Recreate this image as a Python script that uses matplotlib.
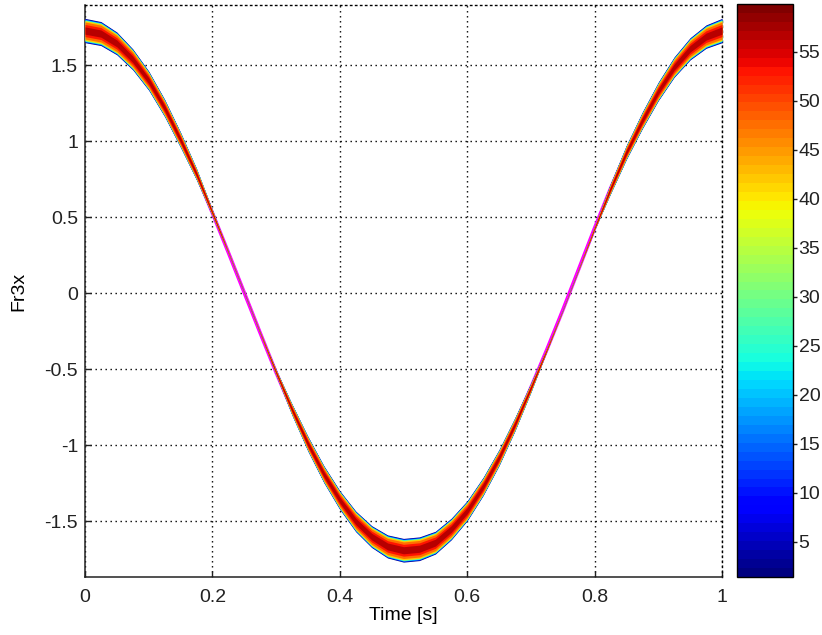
import numpy as np
import matplotlib.pyplot as plt
import matplotlib as mpl

# Dados

t = [0.0, 0.025, 0.05, 0.075, 0.1, 0.125, 0.15, 0.175, 0.2, 0.225,
     0.25, 0.275, 0.3, 0.325, 0.35, 0.375, 0.4, 0.425, 0.45, 0.475,
     0.5, 0.525, 0.55, 0.575, 0.6, 0.625, 0.65, 0.675, 0.7, 0.725,
     0.75, 0.775, 0.8, 0.825, 0.85, 0.875, 0.9, 0.925, 0.95, 0.975, 1.0]

fr3x = [1.73, 1.71, 1.645, 1.54, 1.40, 1.22, 1.01, 0.785, 0.53, 0.27,
        0.005, -0.26, -0.52, -0.765, -0.99, -1.19, -1.36, -1.50, -1.60, -1.665,
        -1.69, -1.68, -1.64, -1.55, -1.43, -1.27, -1.08, -0.86, -0.62, -0.37,
        -0.11, 0.16, 0.43, 0.69, 0.93, 1.14, 1.33, 1.49, 1.61, 1.69, 1.73]

# meia largura (vertical) da faixa de densidade
spread = [0.080, 0.079, 0.075, 0.069, 0.063, 0.057, 0.050, 0.038, 0.020, 0.004,
          0.002, 0.004, 0.018, 0.037, 0.049, 0.056, 0.062, 0.068, 0.072, 0.076,
          0.078, 0.078, 0.075, 0.071, 0.066, 0.060, 0.053, 0.044, 0.030, 0.010,
          0.002, 0.003, 0.012, 0.034, 0.047, 0.055, 0.061, 0.067, 0.073, 0.077, 0.080]

# perfil da densidade: contagem e fração da meia largura
counts = [3, 12, 22, 33, 42, 48, 53, 57]
fracs = [1.0, 0.95, 0.9, 0.85, 0.8, 0.7, 0.5, 0.3]

cbar_ticks = [5, 10, 15, 20, 25, 30, 35, 40, 45, 50, 55]
x_ticks = [0, 0.2, 0.4, 0.6, 0.8, 1]
y_ticks = [-1.5, -1, -0.5, 0, 0.5, 1, 1.5]

# Configuração

plt.rcParams['font.family'] = ['Liberation Sans', 'DejaVu Sans']
plt.rcParams['font.size'] = 14
plt.rcParams['text.color'] = '#222222'
plt.rcParams['xtick.color'] = '#222222'
plt.rcParams['ytick.color'] = '#222222'

cmap = mpl.colormaps['jet'].resampled(64)
norm = mpl.colors.Normalize(vmin=1.4, vmax=59.9)

fig = plt.figure(figsize=(8.22, 6.35), dpi=100)
ax = fig.add_axes([85 / 822, 58 / 635, 637 / 822, 572 / 635])
cax = fig.add_axes([737 / 822, 58 / 635, 56 / 822, 573 / 635])

t_arr = np.array(t)
y_arr = np.array(fr3x)
w_arr = np.array(spread)

# linha magenta por baixo
ax.plot(t_arr, y_arr, color='#ff00ff', lw=2.6, zorder=2, solid_capstyle='butt')

# faixa de densidade em camadas
for c, f in zip(counts, fracs):
    ax.fill_between(t_arr, y_arr - f * w_arr, y_arr + f * w_arr,
                    color=cmap(norm(c)), lw=0, zorder=3)

ax.set_xlim(0, 1)
ax.set_ylim(-1.866, 1.898)
ax.set_xticks(x_ticks)
ax.set_xticklabels(['0', '0.2', '0.4', '0.6', '0.8', '1'])
ax.set_yticks(y_ticks)
ax.set_yticklabels(['-1.5', '-1', '-0.5', '0', '0.5', '1', '1.5'])

ax.set_axisbelow(True)
ax.grid(True, color='black', linestyle=(0, (1, 2.6)), linewidth=1.0)
ax.tick_params(direction='in', length=4, width=1, top=False, right=False)
ax.tick_params(axis='x', pad=8.5)
ax.tick_params(axis='y', pad=5)

for s in ['left', 'bottom']:
    ax.spines[s].set_linewidth(1.1)
    ax.spines[s].set_color('#222222')
for s in ['top', 'right']:
    ax.spines[s].set_linestyle((0, (1, 2.6)))
    ax.spines[s].set_linewidth(1.0)

ax.set_xlabel('Time [s]', labelpad=0.5)
ax.set_ylabel('Fr3x')
ax.yaxis.set_label_coords(-0.09, 0.5)

# Barra de cores

sm = mpl.cm.ScalarMappable(norm=norm, cmap=cmap)
cb = fig.colorbar(sm, cax=cax)
cb.set_ticks(cbar_ticks)
cb.outline.set_linewidth(1.0)
cb.ax.tick_params(direction='out', length=3, width=1, pad=1)

fig.savefig('out.png', dpi=100)
